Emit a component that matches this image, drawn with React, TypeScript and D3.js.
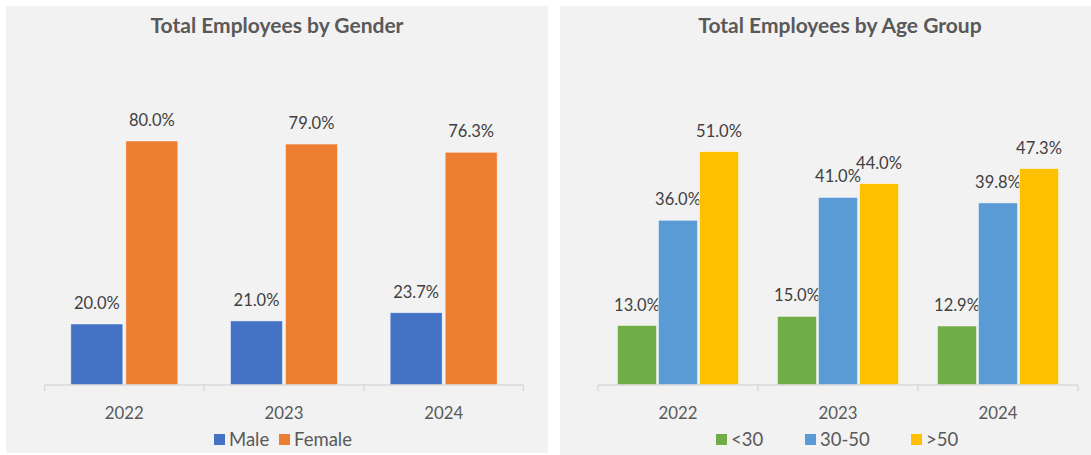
import React from "react";
import * as d3 from "d3";

const years = ["2022", "2023", "2024"];

const genderSeries = ["Male", "Female"];
const maleValues = [20.0, 21.0, 23.7];
const femaleValues = [80.0, 79.0, 76.3];
const genderColors = ["#4472C4", "#ED7D31"];

const ageSeries = ["<30", "30-50", ">50"];
const under30Values = [13.0, 15.0, 12.9];
const age30to50Values = [36.0, 41.0, 39.8];
const over50Values = [51.0, 44.0, 47.3];
const ageColors = ["#70AD47", "#5B9BD5", "#FFC000"];

const FONT = "Lato, 'Open Sans', sans-serif";

type PanelProps = {
  title: string;
  titleX: number;
  series: string[];
  values: number[][];
  colors: string[];
  yMax: number;
  px: number;
  pw: number;
  ph: number;
  axisX0: number;
  axisX1: number;
  groupW: number;
  barGap: number;
  legendX: number[];
};

function Panel(p: PanelProps) {
  const baseY = 385;
  const topY = 110.5;
  const y = d3.scaleLinear().domain([0, p.yMax]).range([baseY, topY]);
  const x0 = d3.scaleBand<string>().domain(years).range([p.axisX0, p.axisX1]).paddingInner(0).paddingOuter(0);
  const x1 = d3
    .scaleBand<string>()
    .domain(p.series)
    .range([0, p.groupW])
    .paddingInner(p.barGap)
    .paddingOuter(0);
  const bw = x1.bandwidth();
  const boundaries = [...years.map((c) => x0(c) as number), p.axisX1];
  return (
    <g>
      <rect x={p.px} y={6} width={p.pw} height={p.ph} fill="#F2F2F2" />
      <text
        x={p.titleX}
        y={33}
        textAnchor="middle"
        fontFamily={FONT}
        fontWeight="bold"
        fontSize={21}
        fill="#595959"
      >
        {p.title}
      </text>
      {p.series.map((s, si) =>
        years.map((c, ci) => {
          const v = p.values[si][ci];
          const cx = (x0(c) as number) + x0.bandwidth() / 2 - p.groupW / 2;
          const bx = cx + (x1(s) as number);
          return (
            <g key={s + c}>
              <rect
                x={bx}
                y={y(v)}
                width={bw}
                height={baseY - y(v)}
                fill={p.colors[si]}
                stroke="#FFFFFF"
                strokeOpacity={0.6}
                strokeWidth={0.75}
              />
              <text
                x={bx + bw / 2}
                y={y(v) - 15}
                textAnchor="middle"
                fontFamily={FONT}
                fontSize={16.5}
                fill="#404040"
              >
                {v.toFixed(1) + "%"}
              </text>
            </g>
          );
        })
      )}
      <line x1={p.axisX0} x2={p.axisX1} y1={baseY} y2={baseY} stroke="#D9D9D9" strokeWidth={1.5} />
      {boundaries.map((bx, i) => (
        <line key={i} x1={bx} x2={bx} y1={baseY} y2={baseY + 6} stroke="#D9D9D9" strokeWidth={1.5} />
      ))}
      {years.map((c) => (
        <text
          key={c}
          x={(x0(c) as number) + x0.bandwidth() / 2}
          y={419}
          textAnchor="middle"
          fontFamily={FONT}
          fontSize={16.8}
          fill="#595959"
        >
          {c}
        </text>
      ))}
      {p.series.map((s, si) => (
        <g key={s}>
          <rect x={p.legendX[si]} y={434} width={11} height={11} fill={p.colors[si]} />
          <text x={p.legendX[si] + 15} y={445.5} fontFamily={FONT} fontSize={18.5} fill="#595959">
            {s}
          </text>
        </g>
      ))}
    </g>
  );
}

export default function App() {
  return (
    <svg
      width={1091}
      height={455}
      style={{ position: "absolute", left: 0, top: 0, background: "#FFFFFF" }}
    >
      <Panel
        title="Total Employees by Gender"
        titleX={277}
        series={genderSeries}
        values={[maleValues, femaleValues]}
        colors={genderColors}
        yMax={90}
        px={6}
        pw={542}
        ph={447}
        axisX0={44.5}
        axisX1={523.5}
        groupW={107}
        barGap={0.055}
        legendX={[214, 279]}
      />
      <Panel
        title="Total Employees by Age Group"
        titleX={840}
        series={ageSeries}
        values={[under30Values, age30to50Values, over50Values]}
        colors={ageColors}
        yMax={60}
        px={560}
        pw={531}
        ph={449}
        axisX0={598}
        axisX1={1078}
        groupW={121}
        barGap={0.049}
        legendX={[716, 805, 911]}
      />
    </svg>
  );
}
